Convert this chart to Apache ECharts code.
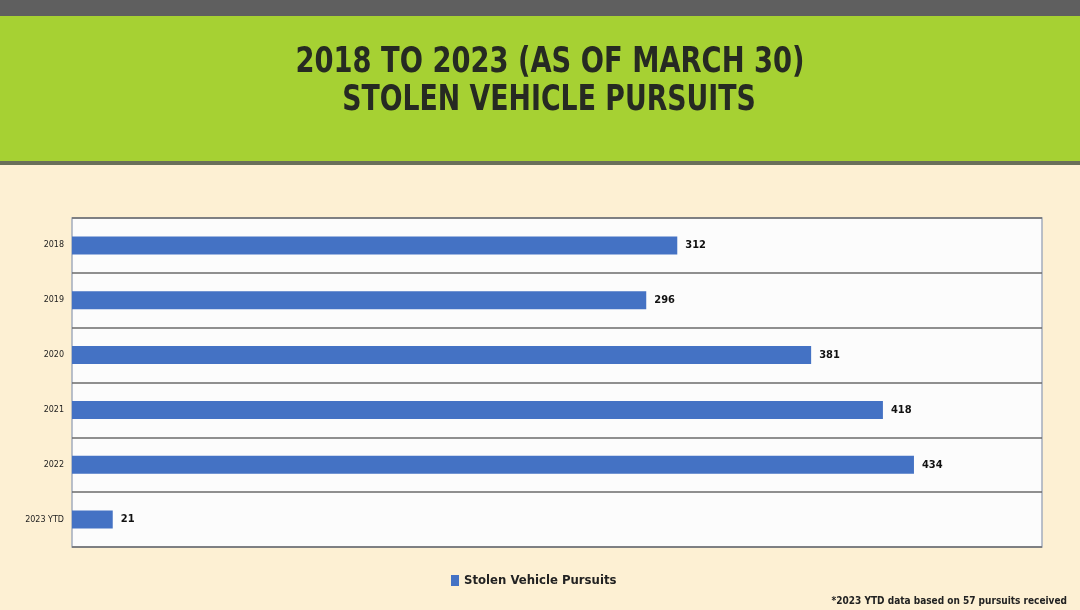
<!DOCTYPE html>
<html>
<head>
<meta charset="utf-8">
<script src="https://cdn.jsdelivr.net/npm/echarts@6/dist/echarts.min.js"></script>
<style>
html,body{margin:0;padding:0;background:#fdf0d3;}
#chart{width:1080px;height:610px;}
</style>
</head>
<body>
<div id="chart"></div>
<script>
const categories = ['2018', '2019', '2020', '2021', '2022', '2023 YTD'];
const pursuits = [312, 296, 381, 418, 434, 21];
const seriesName = 'Stolen Vehicle Pursuits';
const titleLines = ['2018 TO 2023 (AS OF MARCH 30)', 'STOLEN VEHICLE PURSUITS'];
const footnote = '*2023 YTD data based on 57 pursuits received';

const chart = echarts.init(document.getElementById('chart'));
const condensed = '"DejaVu Sans Condensed", "DejaVu Sans", sans-serif';

chart.setOption({
  backgroundColor: '#fdf0d3',
  animation: false,
  graphic: [
    { type: 'rect', shape: { x: 0, y: 0, width: 1080, height: 16 }, style: { fill: '#5f5f5f' }, z: -10 },
    { type: 'rect', shape: { x: 0, y: 16, width: 1080, height: 145 }, style: { fill: '#a6d133' }, z: -10 },
    { type: 'rect', shape: { x: 0, y: 161, width: 1080, height: 4 }, style: { fill: '#6a6f5a' }, z: -10 },
    { type: 'text', x: 550, y: 63, scaleX: 0.98, scaleY: 1.12, style: { text: titleLines[0], font: 'bold 31px ' + condensed, fill: '#262a22', align: 'center', verticalAlign: 'middle' } },
    { type: 'text', x: 549, y: 101, scaleX: 0.96, scaleY: 1.12, style: { text: titleLines[1], font: 'bold 31px ' + condensed, fill: '#262a22', align: 'center', verticalAlign: 'middle' } },
    { type: 'text', x: 1067, y: 601, style: { text: footnote, font: 'bold 10px ' + condensed, fill: '#222', align: 'right', verticalAlign: 'middle' } }
  ],
  legend: {
    data: [seriesName],
    left: 446,
    top: 569,
    icon: 'rect',
    itemWidth: 8,
    itemHeight: 11,
    itemGap: 4,
    textStyle: { fontFamily: condensed, fontWeight: 'bold', fontSize: 13, color: '#222' }
  },
  grid: {
    left: 72, right: 38, top: 218, bottom: 63,
    show: true,
    backgroundColor: '#fcfcfc',
    borderColor: '#a3acbd',
    borderWidth: 1.5
  },
  xAxis: {
    type: 'value',
    min: 0,
    max: 500,
    show: false,
    splitLine: { show: false }
  },
  yAxis: {
    type: 'category',
    data: categories,
    inverse: true,
    axisLine: { show: false },
    axisTick: { show: false },
    axisLabel: { fontFamily: 'Verdana, "DejaVu Sans", sans-serif', fontSize: 8, color: '#222', margin: 8 },
    splitLine: { show: true, lineStyle: { color: '#6b6b6b', width: 1.5 } }
  },
  series: [{
    name: seriesName,
    type: 'bar',
    data: pursuits,
    barWidth: 18,
    itemStyle: { color: '#4472c4' },
    label: {
      show: true,
      position: 'right',
      distance: 8,
      fontFamily: condensed,
      fontWeight: 'bold',
      fontSize: 11,
      color: '#111'
    }
  }]
});
</script>
</body>
</html>
